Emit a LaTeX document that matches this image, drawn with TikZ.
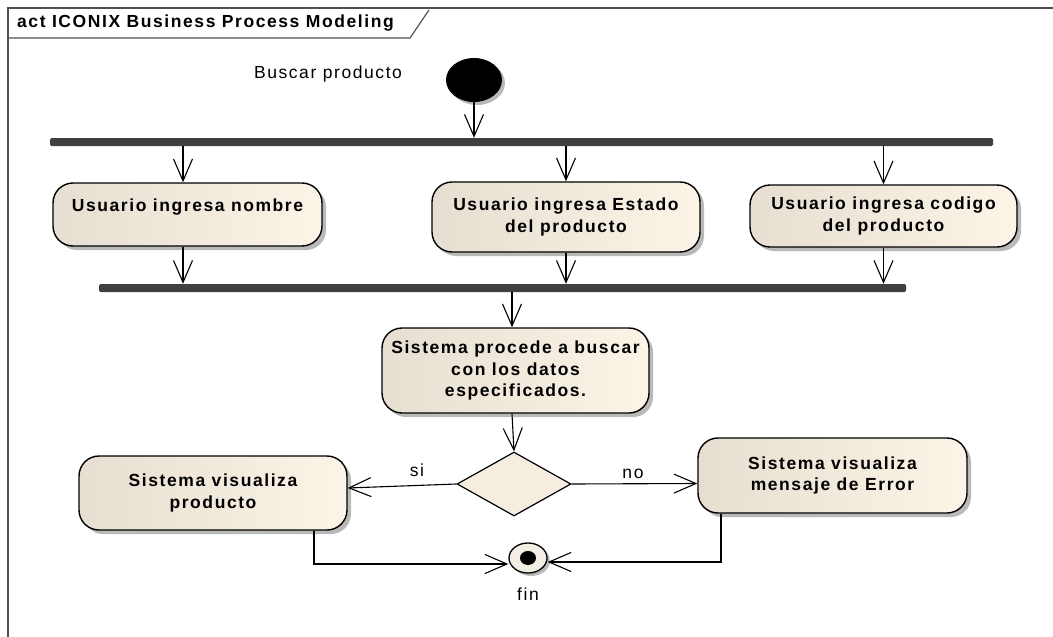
\documentclass[tikz,border=0pt]{standalone}
\usepackage{fontspec}
\setmainfont{Liberation Sans}[LetterSpace=9]
\usetikzlibrary{arrows.meta,shapes.geometric,shadows}
\definecolor{boxL}{RGB}{230,223,209}
\definecolor{boxR}{RGB}{252,244,230}
\definecolor{barc}{RGB}{64,64,64}
\definecolor{framec}{RGB}{80,80,80}
\definecolor{shadowc}{RGB}{185,185,185}
\definecolor{finc}{RGB}{243,238,228}
\tikzset{
  lab/.style={font=\fontsize{17.5}{21.5}\selectfont\bfseries},
  plain/.style={font=\fontsize{17.5}{21}\selectfont},
  action/.style={draw=black, line width=1.4pt, rounded corners=20pt,
    left color=boxL, right color=boxR, lab, align=center, inner sep=2pt,
    drop shadow={shadow xshift=4pt, shadow yshift=-4pt, fill=shadowc, opacity=1}},
  bar/.style={fill=barc, draw=none, rounded corners=1.5pt, inner sep=0pt, minimum height=8pt},
  arr/.style={draw=black, line width=1.1pt, -{Straight Barb[length=22pt,width=19pt,line width=1.1pt]}},
  framel/.style={draw=framec, line width=1.6pt},
}
\begin{document}
\begin{tikzpicture}[x=1pt,y=-1pt]
\useasboundingbox (0,0) rectangle (1053,637);
% frame
\draw[framel] (1053,8) -- (8,8) -- (8,637);
\draw[framel, line width=1.2pt] (8,38) -- (410,38) -- (429,10);
\node[lab, anchor=west, inner sep=0pt] (title) at (17,23) {act ICONIX Business Process Modeling};
% start
\node[plain] (buscar) at (328,74) {Buscar producto};
\node[ellipse, fill=black, minimum width=56pt, minimum height=44pt, inner sep=0pt,
  drop shadow={shadow xshift=3pt, shadow yshift=-3pt, fill=shadowc, opacity=1}] (start) at (474,80) {};
% bars
\node[bar, minimum width=943pt] (bar1) at (521.5,142) {};
\node[bar, minimum width=807pt] (bar2) at (502.5,288) {};
% actions
\node[action, minimum width=269pt, minimum height=63pt, text depth=19pt] (a1) at (187.5,214.5) {Usuario ingresa nombre};
\node[action, minimum width=268pt, minimum height=70pt] (a2) at (566,217) {Usuario ingresa Estado\\del producto};
\node[action, minimum width=267pt, minimum height=62pt] (a3) at (883.5,216) {Usuario ingresa codigo\\del producto};
\node[action, minimum width=267pt, minimum height=85pt] (a4) at (515.5,370.5) {Sistema procede a buscar\\con los datos\\especificados.};
\node[diamond, draw=black, line width=1.2pt, fill=boxR!70!boxL, minimum width=114pt, minimum height=64pt, inner sep=0pt, aspect=1.78] (dia) at (514,484) {};
\node[action, minimum width=268pt, minimum height=74pt] (a5) at (213,493) {Sistema visualiza\\producto};
\node[action, minimum width=269pt, minimum height=75pt] (a6) at (832.5,475.5) {Sistema visualiza\\mensaje de Error};
% final
\node[ellipse, draw=black, line width=1.3pt, fill=finc, minimum width=38pt, minimum height=30pt, inner sep=0pt,
  drop shadow={shadow xshift=3pt, shadow yshift=-3pt, fill=shadowc, opacity=1}] (fin) at (528,558) {};
\node[ellipse, fill=black, minimum width=16pt, minimum height=14pt, inner sep=0pt] (findot) at (fin.center) {};
% labels
\node[plain] (si) at (417,470) {si};
\node[plain] (no) at (633,474) {no};
\node[plain] (finl) at (528,594) {fin};
% connectors
\draw[arr] (start.south) -- (start.south |- bar1.north);
\draw[arr] ([xshift=-4.5pt]a1.north |- bar1.south) -- ([xshift=-4.5pt]a1.north);
\draw[arr] (a2.north |- bar1.south) -- (a2.north);
\draw[arr] (a3.north |- bar1.south) -- (a3.north);
\draw[arr] ([xshift=-4.5pt]a1.south) -- ([xshift=-4.5pt]a1.south |- bar2.north);
\draw[arr] (a2.south) -- (a2.south |- bar2.north);
\draw[arr] (a3.south) -- (a3.south |- bar2.north);
\draw[arr] ([xshift=-3.5pt]a4.north |- bar2.south) -- ([xshift=-3.5pt]a4.north);
\draw[arr] ([xshift=-3.5pt]a4.south) -- (dia.north);
\draw[arr] (dia.west) -- ([yshift=5pt]a5.east);
\draw[arr] (dia.east) -- ([yshift=-8pt]a6.west);
\draw[arr] ([xshift=101pt]a5.south) |- ([yshift=-6pt]fin.west);
\draw[arr] ([xshift=-111.5pt]a6.south) |- ([yshift=-4pt]fin.east);
\end{tikzpicture}
\end{document}
